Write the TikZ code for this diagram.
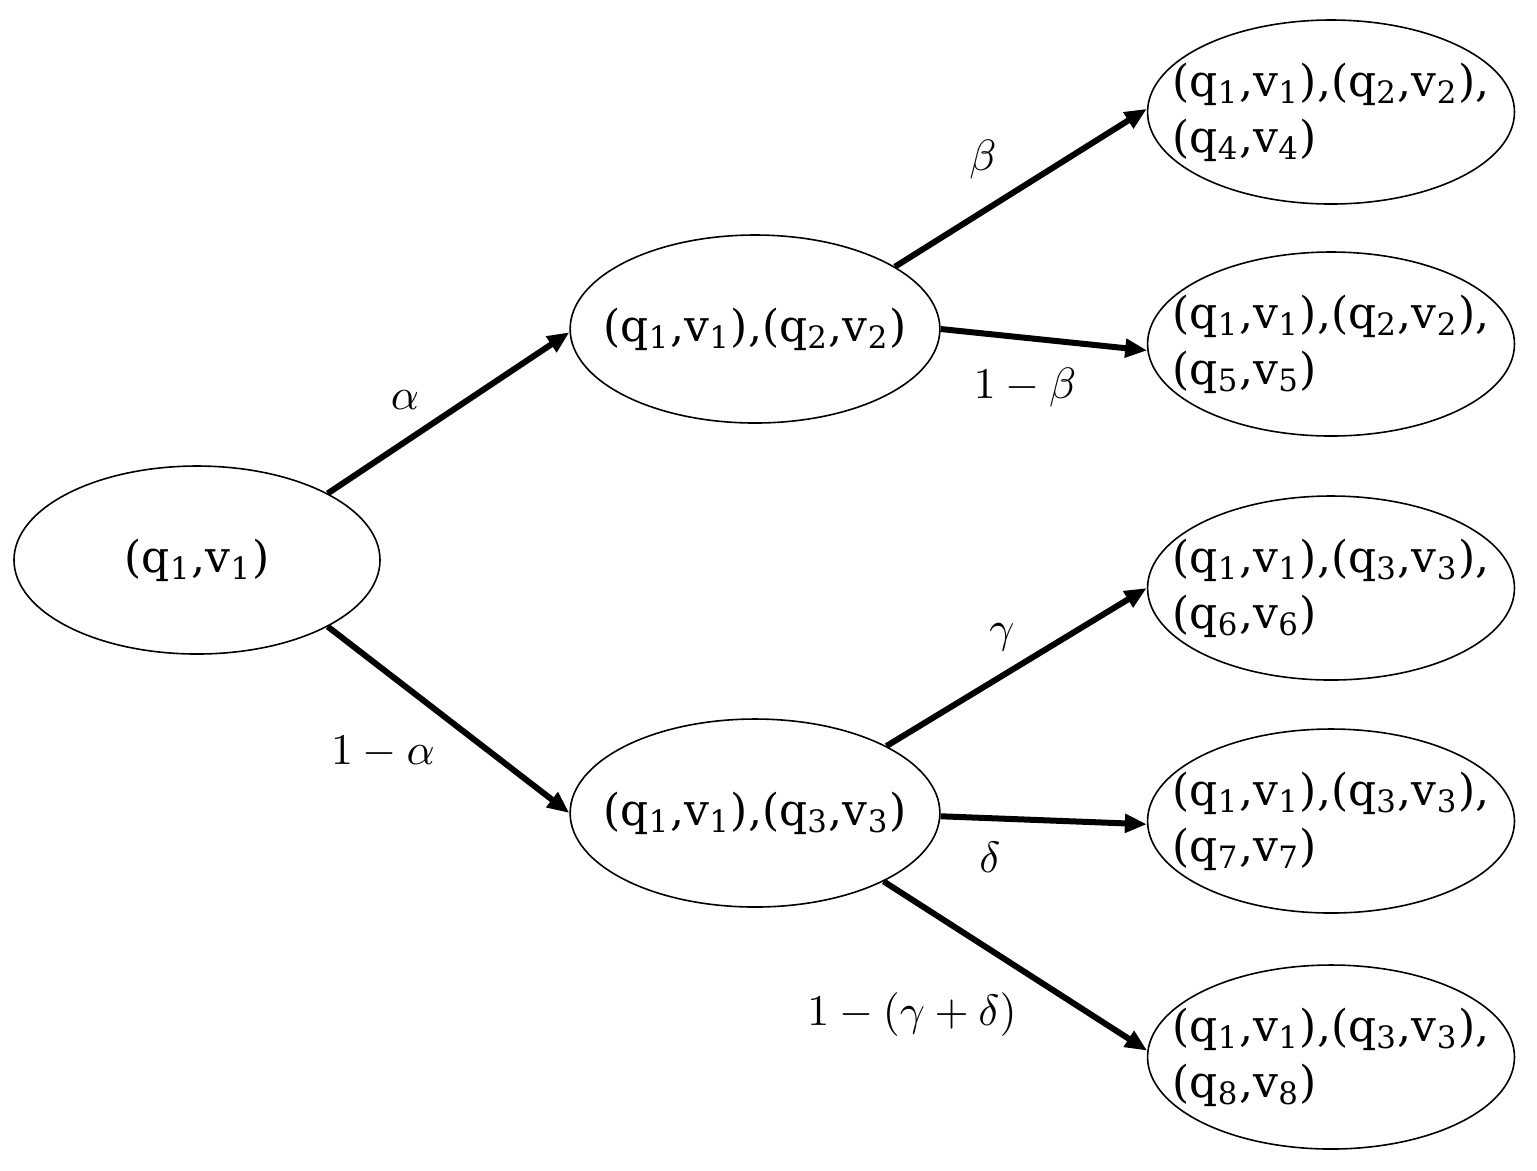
\documentclass[tikz,border=0pt]{standalone}
\usepackage{fontspec}
\setmainfont{DejaVu Serif}
\usetikzlibrary{arrows.meta,shapes.geometric}

\begin{document}
\begin{tikzpicture}[
      x=0.25pt,y=-0.25pt,
      state/.style={draw,ellipse,line width=0.4pt,minimum width=91.5pt,
                    minimum height=47pt,inner xsep=-5.2pt,inner ysep=0pt,
                    font=\fontsize{11}{14}\selectfont},
      leaf/.style={state,minimum height=46pt,inner xsep=-7.2pt,align=left},
      edge/.style={line width=1.5pt,-{Triangle[length=5.5pt,width=4.5pt]}},
      lbl/.style={font=\fontsize{11}{14}\selectfont}]
    \useasboundingbox (0,0) rectangle (1537,1170);
    \node[state] (root) at (197,560) {(q\textsubscript{1},v\textsubscript{1})};
    \node[state] (up) at (755,329) {(q\textsubscript{1},v\textsubscript{1}),(q\textsubscript{2},v\textsubscript{2})};
    \node[state] (down) at (755,813) {(q\textsubscript{1},v\textsubscript{1}),(q\textsubscript{3},v\textsubscript{3})};
    \node[leaf] (l4) at (1331,112)
        {(q\textsubscript{1},v\textsubscript{1}),(q\textsubscript{2},v\textsubscript{2}),\\(q\textsubscript{4},v\textsubscript{4})};
    \node[leaf] (l5) at (1331,344)
        {(q\textsubscript{1},v\textsubscript{1}),(q\textsubscript{2},v\textsubscript{2}),\\(q\textsubscript{5},v\textsubscript{5})};
    \node[leaf] (l6) at (1331,588)
        {(q\textsubscript{1},v\textsubscript{1}),(q\textsubscript{3},v\textsubscript{3}),\\(q\textsubscript{6},v\textsubscript{6})};
    \node[leaf] (l7) at (1331,821)
        {(q\textsubscript{1},v\textsubscript{1}),(q\textsubscript{3},v\textsubscript{3}),\\(q\textsubscript{7},v\textsubscript{7})};
    \node[leaf] (l8) at (1331,1057)
        {(q\textsubscript{1},v\textsubscript{1}),(q\textsubscript{3},v\textsubscript{3}),\\(q\textsubscript{8},v\textsubscript{8})};
    % branches
    \draw[edge] (root.27) -- (up.181);
    \draw[edge] (root.-27) -- (down.180);
    \draw[edge] (up.24) -- (l4.179);
    \draw[edge] (up.0) -- (l5.182);
    \draw[edge] (down.27) -- (l6.180);
    \draw[edge] (down.-1) -- (l7.181);
    \draw[edge] (down.-28) -- (l8.178);
    % probabilities
    \node[lbl] (pa) at (405,400) {$\alpha$};
    \node[lbl] (pna) at (383,752) {$1-\alpha$};
    \node[lbl] (pb) at (983,160) {$\beta$};
    \node[lbl] (pnb) at (1025,388) {$1-\beta$};
    \node[lbl] (pg) at (1002,637) {$\gamma$};
    \node[lbl] (pd) at (990,857) {$\delta$};
    \node[lbl] (pngd) at (912,1015) {$1-(\gamma+\delta)$};
  \end{tikzpicture}
\end{document}
